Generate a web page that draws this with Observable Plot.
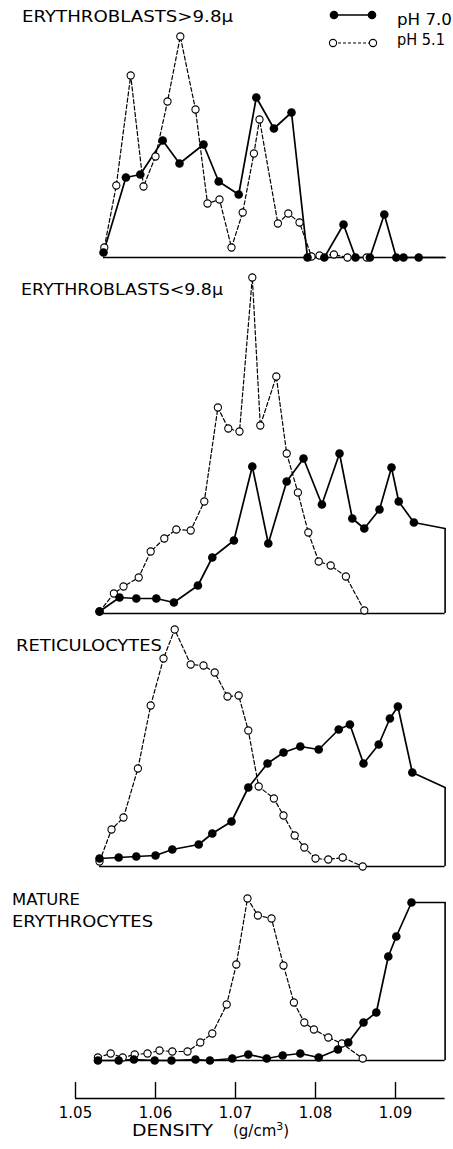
<!DOCTYPE html>
<html><head><meta charset="utf-8">
<script src="https://cdn.jsdelivr.net/npm/d3@7"></script>
<script src="https://cdn.jsdelivr.net/npm/@observablehq/plot@0.6"></script>
<style>
html,body{margin:0;padding:0;background:#fff;overflow:hidden}
#wrap{position:relative;width:453px;height:1149px}
#wrap > div, #wrap > svg{position:absolute;left:0}
svg text{font-family:"DejaVu Sans",sans-serif}
</style></head><body><div id="wrap"></div>
<script>
// ---------------- data (values in relative units) ----------------
const panelTitles = [["ERYTHROBLASTS>9.8\u03bc"], ["ERYTHROBLASTS<9.8\u03bc"], ["RETICULOCYTES"], ["MATURE", "ERYTHROCYTES"]];
const seriesLabels = ["pH 7.0", "pH 5.1"];
const xTicks = [1.05, 1.06, 1.07, 1.08, 1.09];
const xEnd = 1.0962;            // bottom of gradient (pellet)
const axisTitle = "DENSITY";
const axisUnit = "(g/cm";

// Panel 1: erythroblasts > 9.8 µm
const p1Density70 = [1.0535, 1.0563, 1.0581, 1.0609, 1.0630, 1.0660, 1.0679, 1.0704, 1.0726, 1.0748, 1.0770, 1.0790, 1.0811, 1.0835, 1.0850, 1.0868, 1.0886, 1.0901, 1.0910, 1.0929];
const p1Value70   = [5, 80, 83, 117, 94, 113, 76, 63, 160, 129, 145, 0, 0, 33, 0, 0, 43, 0, 0, 0];
const p1Density51 = [1.0536, 1.0551, 1.0569, 1.0585, 1.0600, 1.0615, 1.0631, 1.0650, 1.0665, 1.0680, 1.0695, 1.0709, 1.0723, 1.0730, 1.0753, 1.0766, 1.0780, 1.0795, 1.0805, 1.0823, 1.0840, 1.0864];
const p1Value51   = [10, 72, 182, 71, 101, 156, 221, 148, 54, 58, 10, 45, 104, 138, 34, 44, 35, 1, 2, 3, 0, 0];
const p1End = 0;

// Panel 2: erythroblasts < 9.8 µm
const p2Density70 = [1.0530, 1.0555, 1.0576, 1.0601, 1.0623, 1.0653, 1.0671, 1.0698, 1.0721, 1.0741, 1.0764, 1.0785, 1.0808, 1.0830, 1.0846, 1.0861, 1.0880, 1.0895, 1.0904, 1.0923];
const p2Value70   = [2, 16, 15, 15, 11, 28, 56, 73, 147, 70, 132, 155, 109, 160, 95, 85, 104, 146, 112, 91];
const p2Density51 = [1.0530, 1.0548, 1.0560, 1.0579, 1.0594, 1.0611, 1.0626, 1.0644, 1.0661, 1.0678, 1.0691, 1.0705, 1.0721, 1.0731, 1.0751, 1.0764, 1.0778, 1.0791, 1.0804, 1.0819, 1.0838, 1.0861];
const p2Value51   = [2, 20, 27, 36, 62, 75, 84, 83, 112, 206, 185, 182, 336, 188, 237, 160, 121, 81, 52, 48, 37, 3];
const p2End = 85;

// Panel 3: reticulocytes
const p3Density70 = [1.0530, 1.0554, 1.0576, 1.0600, 1.0621, 1.0654, 1.0671, 1.0695, 1.0716, 1.0740, 1.0760, 1.0781, 1.0804, 1.0829, 1.0843, 1.0860, 1.0879, 1.0893, 1.0903, 1.0921];
const p3Value70   = [8, 9, 10, 11, 17, 22, 33, 45, 79, 103, 114, 120, 117, 137, 142, 103, 122, 148, 160, 94];
const p3Density51 = [1.0530, 1.0545, 1.0560, 1.0578, 1.0594, 1.0610, 1.0624, 1.0644, 1.0660, 1.0674, 1.0690, 1.0704, 1.0716, 1.0729, 1.0748, 1.0760, 1.0774, 1.0786, 1.0800, 1.0816, 1.0834, 1.0859];
const p3Value51   = [5, 37, 49, 98, 161, 208, 237, 202, 201, 194, 170, 171, 136, 80, 68, 51, 31, 19, 8, 7, 9, 0];
const p3End = 79;

// Panel 4: mature erythrocytes
const p4Density70 = [1.0528, 1.0554, 1.0573, 1.0599, 1.0620, 1.0650, 1.0668, 1.0696, 1.0716, 1.0739, 1.0759, 1.0781, 1.0804, 1.0828, 1.0841, 1.0860, 1.0876, 1.0891, 1.0901, 1.0920];
const p4Value70   = [0, 0, 1, 0, 0, 1, 0, 2, 6, 2, 5, 7, 3, 11, 18, 38, 48, 104, 124, 158];
const p4Density51 = [1.0528, 1.0544, 1.0559, 1.0574, 1.0590, 1.0605, 1.0621, 1.0640, 1.0656, 1.0671, 1.0689, 1.0701, 1.0715, 1.0728, 1.0745, 1.0760, 1.0773, 1.0786, 1.0798, 1.0816, 1.0833, 1.0859];
const p4Value51   = [3, 7, 3, 6, 7, 10, 9, 9, 18, 27, 56, 96, 162, 145, 142, 95, 58, 38, 31, 23, 17, 2];
const p4End = 158;

// ---------------- layout ----------------
const W = 453;
const xDomain = [1.040625, 1.09725];
const panelTop = [0, 263, 619, 872];
const panelBase = [257, 613, 866, 1060];
const FONT = '"DejaVu Sans", sans-serif';

const panels = [
  {d70: p1Density70, v70: p1Value70, d51: p1Density51, v51: p1Value51, end: p1End},
  {d70: p2Density70, v70: p2Value70, d51: p2Density51, v51: p2Value51, end: p2End},
  {d70: p3Density70, v70: p3Value70, d51: p3Density51, v51: p3Value51, end: p3End},
  {d70: p4Density70, v70: p4Value70, d51: p4Density51, v51: p4Value51, end: p4End}
];

const wrap = document.getElementById("wrap");

panels.forEach((p, i) => {
  const s70 = p.d70.map((d, k) => ({d, v: p.v70[k]}));
  const s51 = p.d51.map((d, k) => ({d, v: p.v51[k]}));
  const line70 = s70.concat([{d: xEnd, v: p.end}]);
  const h = panelBase[i] - panelTop[i];
  const start = Math.min(p.d70[0], p.d51[0]);
  const marks = [
    Plot.ruleY([0], {x1: start, x2: xEnd, stroke: "#000", strokeWidth: 1.6}),
    p.end > 0 ? Plot.ruleX([xEnd], {y1: 0, y2: p.end, stroke: "#000", strokeWidth: 1.6}) : null,
    Plot.line(s51, {x: "d", y: "v", stroke: "#000", strokeWidth: 1.2, strokeDasharray: "4,2.4"}),
    Plot.line(line70, {x: "d", y: "v", stroke: "#000", strokeWidth: 1.7}),
    Plot.dot(s51, {x: "d", y: "v", r: 3.6, fill: "#fff", stroke: "#000", strokeWidth: 1.1}),
    Plot.dot(s70, {x: "d", y: "v", r: 4.3, fill: "#000", stroke: "none"})
  ].filter(Boolean);
  const chart = Plot.plot({
    width: W, height: h + 6,
    marginTop: 0, marginBottom: 6, marginLeft: 0, marginRight: 0,
    x: {domain: xDomain, axis: null},
    y: {domain: [0, h], axis: null},
    style: {background: "transparent", overflow: "visible"},
    marks
  });
  const div = document.createElement("div");
  div.style.top = panelTop[i] + "px";
  div.appendChild(chart);
  wrap.appendChild(div);
});

// x axis (ticks point upward from the axis line)
const axisTop = 1066;
const axisChart = Plot.plot({
  width: W, height: 83,
  marginTop: 16, marginBottom: 51, marginLeft: 0, marginRight: 0,
  x: {domain: xDomain, axis: null},
  y: {domain: [0, 1], axis: null},
  style: {background: "transparent", overflow: "visible", fontFamily: FONT, color: "#000"},
  marks: [
    Plot.ruleY([0], {x1: xTicks[0], x2: xEnd, stroke: "#000", strokeWidth: 1.5}),
    Plot.ruleX(xTicks, {y1: 0, y2: 1, stroke: "#000", strokeWidth: 1.4}),
    Plot.text(xTicks, {x: d => d, y: 0, text: d => d.toFixed(2), dy: 15, fontSize: 15, fill: "#000", fontFamily: FONT})
  ]
});
const axDiv = document.createElement("div");
axDiv.style.top = axisTop + "px";
axDiv.appendChild(axisChart);
wrap.appendChild(axDiv);

// overlay text: panel titles, legend, axis title
const ns = "http://www.w3.org/2000/svg";
const ov = document.createElementNS(ns, "svg");
ov.setAttribute("width", W); ov.setAttribute("height", 1149);
ov.style.top = "0px"; ov.style.pointerEvents = "none";
wrap.appendChild(ov);
function txt(str, x, y, size, len) {
  const t = document.createElementNS(ns, "text");
  t.setAttribute("x", x); t.setAttribute("y", y);
  t.setAttribute("font-size", size);
  if (len) { t.setAttribute("textLength", len); t.setAttribute("lengthAdjust", "spacingAndGlyphs"); }
  t.textContent = str;
  ov.appendChild(t);
  return t;
}
const titlePos = [[[22, 22, 211]], [[21, 295, 202]], [[16, 651, 146]], [[12, 905, 68], [12, 927, 141]]];
panelTitles.forEach((lines, i) => lines.forEach((s, j) => {
  const [x, y, len] = titlePos[i][j];
  txt(s, x, y, 15, len);
}));
// legend
function el(name, attrs) {
  const e = document.createElementNS(ns, name);
  for (const k in attrs) e.setAttribute(k, attrs[k]);
  ov.appendChild(e); return e;
}
el("line", {x1: 334, y1: 15, x2: 372, y2: 15, stroke: "#000", "stroke-width": 1.7});
el("circle", {cx: 334, cy: 15, r: 4.3, fill: "#000"});
el("circle", {cx: 372, cy: 15, r: 4.3, fill: "#000"});
el("line", {x1: 333, y1: 43, x2: 373, y2: 43, stroke: "#000", "stroke-width": 1.2, "stroke-dasharray": "3,2"});
el("circle", {cx: 333, cy: 43, r: 3.6, fill: "#fff", stroke: "#000", "stroke-width": 1.1});
el("circle", {cx: 373, cy: 43, r: 3.6, fill: "#fff", stroke: "#000", "stroke-width": 1.1});
txt(seriesLabels[0], 397, 25, 15, 55);
txt(seriesLabels[1], 397, 45, 15, 48);
// axis title
txt(axisTitle, 132, 1136, 15, 81);
const u = txt(axisUnit, 233, 1136, 15);
const sup = document.createElementNS(ns, "tspan");
sup.setAttribute("dy", -6); sup.setAttribute("font-size", 11); sup.textContent = "3";
u.appendChild(sup);
const cl = document.createElementNS(ns, "tspan");
cl.setAttribute("dy", 6); cl.textContent = ")";
u.appendChild(cl);
</script></body></html>
